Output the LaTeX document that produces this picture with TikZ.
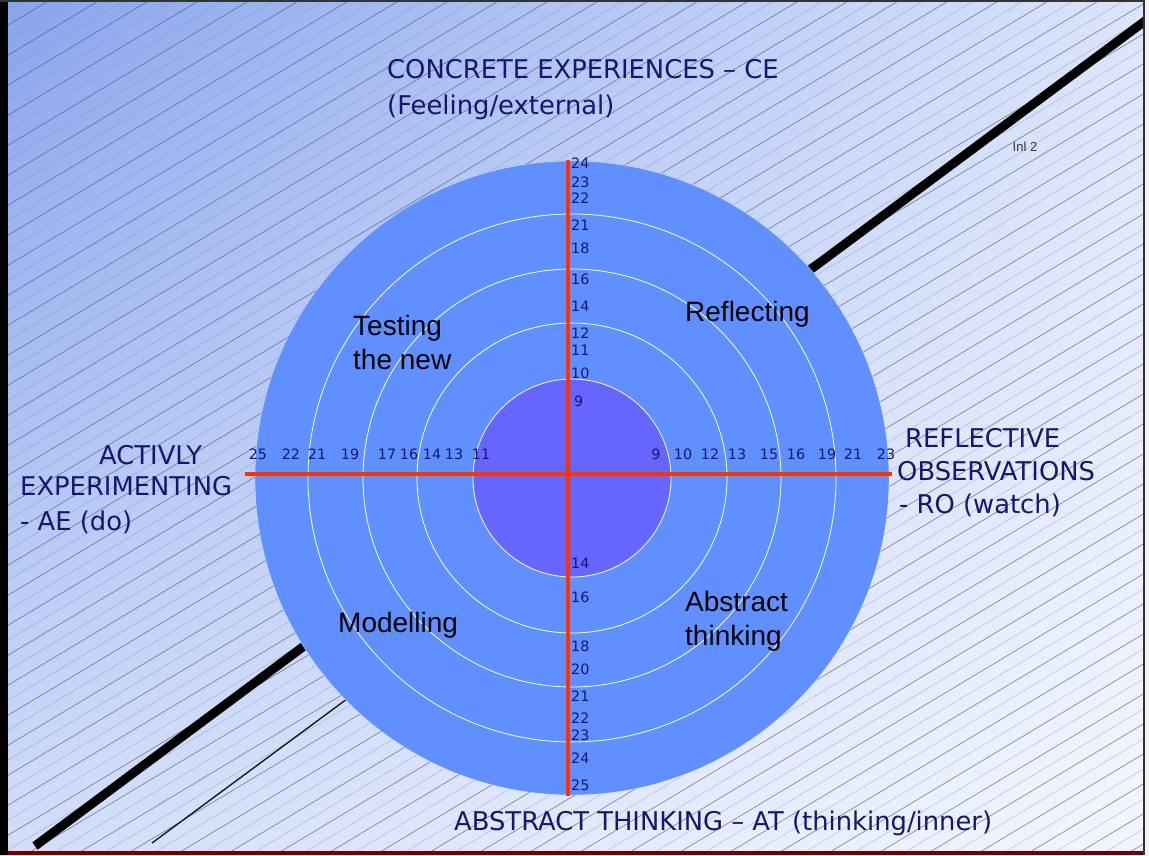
\documentclass[tikz,border=0pt]{standalone}
\usepackage{fontspec}
\usetikzlibrary{shadings}
\setmainfont{Liberation Sans}
\newfontfamily\tah{DejaVu Sans}
\definecolor{navy}{RGB}{22,22,110}
\definecolor{ringblue}{RGB}{96,144,255}
\definecolor{corepurple}{RGB}{102,102,255}
\definecolor{axisred}{RGB}{255,51,0}
\definecolor{bgUL}{RGB}{136,164,238}
\definecolor{bgUR}{RGB}{220,229,251}
\definecolor{bgLL}{RGB}{210,222,249}
\definecolor{bgLR}{RGB}{244,246,254}
\definecolor{hatchdk}{RGB}{80,88,115}
\definecolor{hatchlt}{RGB}{130,140,165}
\tikzset{
  numlab/.style={font=\tah\fontsize{14.3}{16}\selectfont, text=navy, inner sep=0pt},
  titlelab/.style={font=\tah\fontsize{25.8}{30}\selectfont, text=navy, anchor=base west, inner sep=0pt},
  quadlab/.style={font=\fontsize{28}{32}\selectfont, text=black, anchor=base west, inner sep=0pt},
  ringline/.style={draw=white, line width=0.8pt},
  axisline/.style={draw=axisred, line width=4pt},
  hatchA/.style={draw=hatchdk, line width=0.6pt, opacity=0.75},
  hatchB/.style={draw=hatchlt, line width=0.45pt, opacity=0.55}
}
\begin{document}
\begin{tikzpicture}[x=1pt,y=-1pt]
\useasboundingbox (0,0) rectangle (1149,855);
% background
\shade[upper left=bgUL, upper right=bgUR, lower left=bgLL, lower right=bgLR] (0,0) rectangle (1149,855);
\begin{scope}
  \clip (8,2) rectangle (1143,851);
  \foreach \c in {0,30,...,1590} { \draw[hatchA] (0,\c) -- (1149,\c-689.4); }
  \foreach \c in {15,45,...,1590} { \draw[hatchB] (0,\c) -- (1149,\c-689.4); }
  \draw[line width=9pt, black] (35,846) -- (1149,18);
  \draw[line width=1.4pt, black!90] (152,843) -- (420,645);
\end{scope}
% frame
\fill[black] (0,0) rectangle (8,855);
\fill[black!80] (0,0) rectangle (1149,2);
\fill[black!80] (1143,0) rectangle (1145,855);
\fill[white!92!gray] (1145,0) rectangle (1149,855);
\fill[red!45!black] (8,851) rectangle (1143,855);
% target
\coordinate (O) at (572,478);
\fill[ringblue] (O) circle (317);
\draw[white, line width=0.4pt, opacity=0.6] (O) circle (317);
\draw[ringline] (O) circle (264);
\draw[ringline] (O) circle (209);
\draw[ringline] (O) circle (155);
\fill[corepurple] (O) circle (99);
\draw[ringline] (O) circle (99);
% axes
\coordinate (hL) at (245,474);
\coordinate (hR) at (892,474);
\coordinate (vT) at (568,160);
\coordinate (vB) at (568,796);
\draw[axisline] (hL) -- (hR);
\draw[axisline] (vT) -- (vB);
% numbers on vertical axis (top)
\foreach \n/\y [count=\k] in {24/163,23/182,22/198,21/225,18/248,16/279,14/306,12/333,11/350,10/373}
  \node[numlab, anchor=west] (t\k) at (571,\y) {\n};
\node[numlab, anchor=west] (t9) at (574,401) {9};
% numbers on vertical axis (bottom)
\foreach \n/\y [count=\k] in {14/563,16/597,18/646,20/669,21/696,22/718,23/735,24/758,25/785}
  \node[numlab, anchor=west] (b\k) at (571,\y) {\n};
% numbers on horizontal axis (left)
\foreach \n/\x [count=\k] in {25/258,22/291,21/317,19/350,17/387,16/409,14/432,13/454,11/481}
  \node[numlab] (l\k) at (\x,454) {\n};
% numbers on horizontal axis (right)
\foreach \n/\x [count=\k] in {9/656,10/683,12/710,13/737,15/769,16/796,19/827,21/853,23/886}
  \node[numlab] (r\k) at (\x,454) {\n};
% quadrant labels
\node[quadlab] (q1a) at (353,335) {Testing};
\node[quadlab] (q1b) at (353,369) {the new};
\node[quadlab] (q2) at (685,321) {Reflecting};
\node[quadlab] (q3) at (338,632) {Modelling};
\node[quadlab] (q4a) at (685,611) {Abstract};
\node[quadlab] (q4b) at (685,645) {thinking};
% titles
\node[titlelab] (ce1) at (387,78) {CONCRETE EXPERIENCES – CE};
\node[titlelab] (ce2) at (387,114) {(Feeling/external)};
\node[titlelab] (ae1) at (99,464) {ACTIVLY};
\node[titlelab] (ae2) at (20,495) {EXPERIMENTING};
\node[titlelab] (ae3) at (20,530) {- AE (do)};
\node[titlelab] (ro1) at (905,447) {REFLECTIVE};
\node[titlelab] (ro2) at (897,480) {OBSERVATIONS};
\node[titlelab] (ro3) at (899,513) {- RO (watch)};
\node[titlelab] (at1) at (454,830) {ABSTRACT THINKING – AT (thinking/inner)};
\node[font=\fontsize{13}{15}\selectfont, text=black!80, inner sep=0pt] (inl) at (1025,147) {Inl 2};
\end{tikzpicture}
\end{document}
